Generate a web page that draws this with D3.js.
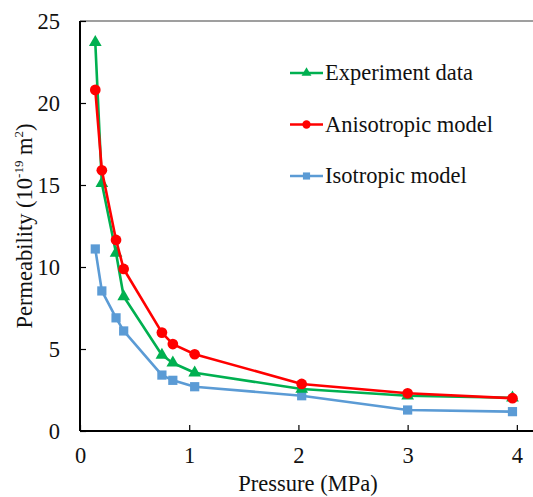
<!DOCTYPE html>
<html>
<head>
<meta charset="utf-8">
<script src="https://cdn.jsdelivr.net/npm/d3@7"></script>
<style>
  body { margin: 0; background: #fff; }
  svg { display: block; }
  svg text { font-family: "Liberation Serif", "Times New Roman", "DejaVu Serif", serif; }
</style>
</head>
<body>
<div></div>
<script>
// data
var pressure = [0.14, 0.2, 0.33, 0.4, 0.75, 0.85, 1.05, 2.03, 3.0, 3.96];
var experiment = [23.7, 15.1, 10.85, 8.2, 4.63, 4.15, 3.55, 2.56, 2.15, 2.02];
var anisotropic = [20.8, 15.9, 11.65, 9.88, 6.0, 5.3, 4.68, 2.87, 2.3, 2.0];
var isotropic = [11.1, 8.54, 6.9, 6.1, 3.41, 3.09, 2.7, 2.15, 1.28, 1.18];
var xTicks = [0, 1, 2, 3, 4];
var yTicks = [0, 5, 10, 15, 20, 25];
var seriesNames = ["Experiment data", "Anisotropic model", "Isotropic model"];

var widthSvg = 533,
    heightSvg = 497,
    fontSize = 22.5;

var svg = d3.select("div").append("svg")
    .attr("width", widthSvg)
    .attr("height", heightSvg);

var margin = { top: 21, right: 0, bottom: 66, left: 80 },
    width = widthSvg - margin.left - margin.right,
    height = heightSvg - margin.top - margin.bottom;

var xScale = d3.scaleLinear().domain([0, 4.148]).range([0, width]);
var yScale = d3.scaleLinear().domain([0, 25]).range([height, 0]);

var g = svg.append("g")
    .attr("transform", "translate(" + margin.left + "," + margin.top + ")");

var series = [
    { name: seriesNames[0], values: experiment, color: "#00b050", shape: d3.symbolTriangle, size: 70 },
    { name: seriesNames[1], values: anisotropic, color: "#ff0000", shape: d3.symbolCircle, size: 90 },
    { name: seriesNames[2], values: isotropic, color: "#5b9bd5", shape: d3.symbolSquare, size: 85 }
];

// top frame line
g.append("line")
    .attr("x1", 0).attr("x2", width)
    .attr("y1", 0).attr("y2", 0)
    .attr("stroke", "#7f7f7f")
    .attr("stroke-width", 1.5);

var line = d3.line()
    .x(function (d, i) { return xScale(pressure[i]); })
    .y(function (d) { return yScale(d); });

// isotropic first, then experiment, anisotropic on top
[series[2], series[0], series[1]].forEach(function (s) {
    var sg = g.append("g");
    sg.append("path")
        .datum(s.values)
        .attr("fill", "none")
        .attr("stroke", s.color)
        .attr("stroke-width", 2.6)
        .attr("stroke-linejoin", "round")
        .attr("d", line);
    sg.selectAll("path.mark")
        .data(s.values)
        .enter().append("path")
        .attr("class", "mark")
        .attr("fill", s.color)
        .attr("transform", function (d, i) {
            return "translate(" + xScale(pressure[i]) + "," + yScale(d) + ")";
        })
        .attr("d", d3.symbol().type(s.shape).size(s.size));
});

// axes
var xAxis = g.append("g")
    .attr("transform", "translate(0," + height + ")")
    .call(d3.axisBottom(xScale).tickValues(xTicks).tickSize(-6).tickPadding(16).tickFormat(d3.format("d")));

var yAxis = g.append("g")
    .call(d3.axisLeft(yScale).tickValues(yTicks).tickSize(-6).tickPadding(20).tickFormat(d3.format("d")));

[xAxis, yAxis].forEach(function (ax) {
    ax.attr("font-family", null).attr("font-size", null);
    ax.select(".domain").attr("stroke", "#000").attr("stroke-width", 2);
    ax.selectAll(".tick line").attr("stroke", "#000").attr("stroke-width", 1.2);
    ax.selectAll(".tick text")
        .attr("fill", "#111")
        .attr("font-size", fontSize);
});
xAxis.select(".domain").attr("d", "M0,0H" + width);
yAxis.select(".domain").attr("d", "M0," + height + "V0");

// axis titles
svg.append("text")
    .attr("x", 308)
    .attr("y", 491)
    .attr("text-anchor", "middle")
    .attr("font-size", fontSize)
    .attr("fill", "#111")
    .text("Pressure (MPa)");

var yTitle = svg.append("text")
    .attr("transform", "translate(32," + (margin.top + height / 2) + ") rotate(-90)")
    .attr("text-anchor", "middle")
    .attr("font-size", fontSize)
    .attr("fill", "#111");
yTitle.append("tspan").text("Permeability (10");
yTitle.append("tspan").attr("font-size", 13).attr("dy", -9).text("-19");
yTitle.append("tspan").attr("dy", 9).text(" m");
yTitle.append("tspan").attr("font-size", 13).attr("dy", -9).text("2");
yTitle.append("tspan").attr("dy", 9).text(")");

// legend
var legend = svg.append("g")
    .selectAll("g")
    .data(series)
    .enter().append("g")
    .attr("transform", function (d, i) {
        return "translate(290," + (73 + i * 51.5) + ")";
    });

legend.append("line")
    .attr("x1", 0).attr("x2", 33)
    .attr("stroke", function (d) { return d.color; })
    .attr("stroke-width", 2.6);

legend.append("path")
    .attr("transform", "translate(16.5,0)")
    .attr("fill", function (d) { return d.color; })
    .attr("d", function (d) { return d3.symbol().type(d.shape).size(d.size * 0.6)(); });

legend.append("text")
    .attr("x", 35)
    .attr("dy", "0.32em")
    .attr("font-size", fontSize)
    .attr("fill", "#111")
    .text(function (d) { return d.name; });
</script>
</body>
</html>
